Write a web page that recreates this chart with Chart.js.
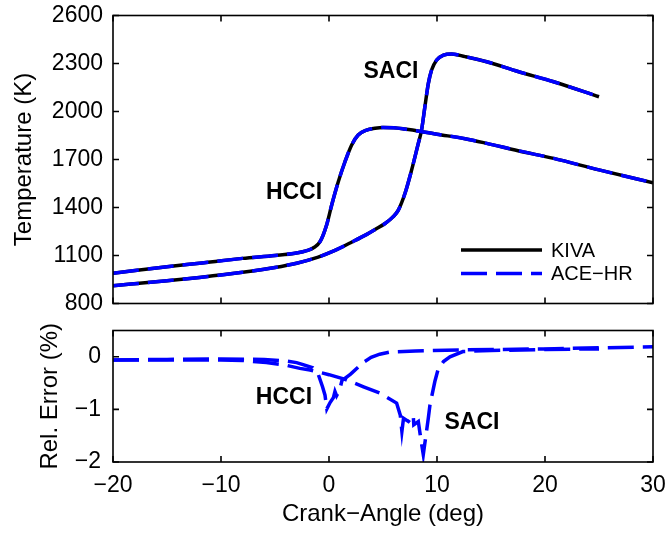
<!DOCTYPE html>
<html>
<head>
<meta charset="utf-8">
<script src="https://cdn.jsdelivr.net/npm/chart.js@4"></script>
<style>
  body { margin: 0; background: #fff; }
  #wrap { position: relative; width: 668px; height: 533px; }
  canvas { position: absolute; left: 0; }
  #c1 { top: 0; }
  #c2 { top: 320px; }
</style>
</head>
<body>
<div id="wrap">
  <canvas id="c1" width="668" height="320"></canvas>
  <canvas id="c2" width="668" height="213"></canvas>
</div>
<script>
// crank angle (deg) and temperature (K)
var hcciCA   = [-20, -15, -12, -8, -5, -3.15, -1.9, -1.4, -0.83, -0.22, 0.25, 0.86, 1.48, 2.1, 2.7, 3.48, 4.26, 5, 6, 7, 8.6, 10, 12.6, 14.6, 17.5, 20.8, 25, 30];
var hcciTemp = [989, 1030, 1052, 1082, 1100, 1114, 1134, 1150, 1186, 1291, 1416, 1561, 1686, 1791, 1853, 1884, 1895, 1900, 1898, 1890, 1874, 1858, 1830, 1801, 1755, 1707, 1635, 1555];

var saciCA   = [-20, -15, -12, -8, -5, -3, -1, 0.5, 2, 3.5, 4.26, 5.19, 5.9, 6.42, 7.04, 7.65, 8.27, 8.57, 8.88, 9.2, 9.5, 9.97, 10.6, 11.35, 12.6, 14.6, 17.5, 20.8, 25];
var saciTemp = [911, 942, 963, 995, 1025, 1052, 1090, 1130, 1180, 1232, 1262, 1300, 1340, 1384, 1489, 1634, 1801, 1884, 2030, 2176, 2259, 2322, 2353, 2360, 2343, 2311, 2250, 2186, 2092];

// relative error (%) of ACE-HR vs KIVA
var hcciErrCA = [-20, -15, -10, -6, -4, -3, -2.4, -1.5, -1.0, -0.6, -0.37, -0.2, 0.1, 0.4, 0.55, 0.7, 1.0, 1.2, 2.0, 2.85, 3.3, 3.9, 4.7, 5.65, 8, 12, 20, 30];
var hcciErr   = [-0.06, -0.05, -0.04, -0.05, -0.08, -0.11, -0.15, -0.21, -0.33, -0.57, -0.73, -0.99, -0.87, -0.78, -0.66, -0.74, -0.62, -0.45, -0.33, -0.17, -0.09, -0.01, 0.05, 0.09, 0.11, 0.13, 0.15, 0.19];

var saciErrCA = [-20, -15, -10, -8, -5.8, -4, -2.7, -1.76, 0, 1.5, 3.2, 4.7, 6.26, 6.6, 6.75, 6.9, 7.35, 7.8, 7.85, 8.27, 8.5, 8.73, 9.2, 9.35, 9.8, 10.1, 10.6, 11.2, 12.4, 15, 20, 25];
var saciErr   = [-0.06, -0.06, -0.06, -0.07, -0.11, -0.16, -0.22, -0.25, -0.34, -0.43, -0.57, -0.69, -0.88, -1.11, -1.42, -1.17, -1.23, -1.11, -1.29, -1.23, -1.56, -1.86, -1.16, -0.91, -0.47, -0.24, -0.09, 0.0, 0.10, 0.12, 0.14, 0.15];

var angleTicks = [-20, -10, 0, 10, 20, 30];
var tempTicks  = [800, 1100, 1400, 1700, 2000, 2300, 2600];
var errTicks   = [-2, -1, 0];

var FONT = '"Liberation Sans", Arial, Helvetica, sans-serif';
var BLUE = '#0000ff';

function pts(xs, ys){
  var out = [];
  for (var i = 0; i < xs.length; i++) out.push({x: xs[i], y: ys[i]});
  return out;
}

function fmt(v){
  return v < 0 ? '\u2212' + Math.abs(v) : '' + v;
}

function setTicks(list){
  return function(s){ s.ticks = list.map(function(v){ return {value: v}; }); };
}

// pin axis size and drop the label overhang padding so the plot box stays put
function pinWidth(w){
  return function(s){ s.width = w; s.paddingTop = 0; s.paddingBottom = 0; };
}
function pinHeight(h){
  return function(s){ s.height = h; s.paddingLeft = 0; s.paddingRight = 0; };
}

// box + inward tick marks, matlab style
var frame = {
  id: 'frame',
  afterDraw: function(chart){
    var ctx = chart.ctx, a = chart.chartArea;
    var sx = chart.scales.x, sy = chart.scales.y;
    ctx.save();
    ctx.strokeStyle = '#000';
    ctx.lineWidth = 1.6;
    ctx.strokeRect(a.left, a.top, a.right - a.left, a.bottom - a.top);
    ctx.beginPath();
    sx.ticks.forEach(function(t){
      var p = sx.getPixelForValue(t.value);
      ctx.moveTo(p, a.bottom); ctx.lineTo(p, a.bottom - 6);
      ctx.moveTo(p, a.top); ctx.lineTo(p, a.top + 6);
    });
    sy.ticks.forEach(function(t){
      var p = sy.getPixelForValue(t.value);
      ctx.moveTo(a.left, p); ctx.lineTo(a.left + 6, p);
      ctx.moveTo(a.right, p); ctx.lineTo(a.right - 6, p);
    });
    ctx.stroke();
    ctx.restore();
  }
};

// text labels placed in data coordinates
var notes = {
  id: 'notes',
  afterDraw: function(chart, args, opts){
    var ctx = chart.ctx;
    ctx.save();
    ctx.fillStyle = '#000';
    ctx.font = 'bold 23px ' + FONT;
    ctx.textAlign = 'center';
    ctx.textBaseline = 'middle';
    (opts.items || []).forEach(function(n){
      ctx.fillText(n.text, chart.scales.x.getPixelForValue(n.x), chart.scales.y.getPixelForValue(n.y));
    });
    ctx.restore();
  }
};

var legendBox = {
  id: 'legendBox',
  afterDraw: function(chart){
    var ctx = chart.ctx;
    var ds = chart.data.datasets;
    var rows = [ds[1], ds[0]]; // KIVA first, then ACE-HR
    ctx.save();
    ctx.font = '20px ' + FONT;
    ctx.textBaseline = 'middle';
    rows.forEach(function(d, i){
      var y = 250 + i * 23.5;
      ctx.beginPath();
      ctx.strokeStyle = d.borderColor;
      ctx.lineWidth = d.borderWidth;
      ctx.setLineDash(d.borderDash || []);
      ctx.moveTo(461, y); ctx.lineTo(542, y);
      ctx.stroke();
      ctx.setLineDash([]);
      ctx.fillStyle = '#000';
      ctx.fillText(d.label, 551, y + 1);
    });
    ctx.restore();
  }
};

function lineSet(label, data, color, dash, order, mode){
  return {
    label: label,
    data: data,
    borderColor: color,
    borderWidth: 3.5,
    borderDash: dash,
    borderCapStyle: 'butt',
    pointRadius: 0,
    fill: false,
    order: order,
    cubicInterpolationMode: mode,
    tension: 0
  };
}

function renderTemp(){
  var ctx = document.getElementById('c1').getContext('2d');
  var dashed = [26, 9];
  new Chart(ctx, {
    type: 'line',
    data: {
      datasets: [
        lineSet('ACE\u2212HR', pts(hcciCA, hcciTemp), BLUE, dashed, 0, 'monotone'),
        lineSet('KIVA', pts(hcciCA, hcciTemp), '#000', [], 1, 'monotone'),
        lineSet('ACE\u2212HR', pts(saciCA, saciTemp), BLUE, dashed, 0, 'monotone'),
        lineSet('KIVA', pts(saciCA, saciTemp), '#000', [], 1, 'monotone')
      ]
    },
    options: {
      responsive: false,
      animation: false,
      layout: { padding: { top: 15.5, right: 15, left: 0, bottom: 0 } },
      plugins: {
        legend: { display: false },
        tooltip: { enabled: false },
        notes: { items: [
          { text: 'SACI', x: 5.74, y: 2247 },
          { text: 'HCCI', x: -3.24, y: 1491 }
        ] }
      },
      scales: {
        x: {
          type: 'linear', min: -20, max: 30,
          afterBuildTicks: setTicks(angleTicks),
          ticks: { display: false },
          grid: { display: false },
          border: { display: false },
          afterFit: pinHeight(16.5)
        },
        y: {
          min: 800, max: 2600,
          afterBuildTicks: setTicks(tempTicks),
          ticks: { color: '#000', padding: 10, font: { family: FONT, size: 23 },
                   callback: function(v){ return fmt(v); } },
          grid: { display: false, drawTicks: false },
          border: { display: false },
          title: { display: true, text: 'Temperature (K)', color: '#000',
                   font: { family: FONT, size: 24 }, padding: { top: 10, bottom: 0 } },
          afterFit: pinWidth(113)
        }
      }
    },
    plugins: [frame, notes, legendBox]
  });
}

function renderErr(){
  var ctx = document.getElementById('c2').getContext('2d');
  var dashed = [26, 9];
  new Chart(ctx, {
    type: 'line',
    data: {
      datasets: [
        lineSet('HCCI', pts(hcciErrCA, hcciErr), BLUE, dashed, 0, 'default'),
        lineSet('SACI', pts(saciErrCA, saciErr), BLUE, dashed, 0, 'default')
      ]
    },
    options: {
      responsive: false,
      animation: false,
      layout: { padding: { top: 10.5, right: 15, left: 0, bottom: 0 } },
      plugins: {
        legend: { display: false },
        tooltip: { enabled: false },
        notes: { items: [
          { text: 'HCCI', x: -4.17, y: -0.78 },
          { text: 'SACI', x: 13.24, y: -1.25 }
        ] }
      },
      scales: {
        x: {
          type: 'linear', min: -20, max: 30,
          afterBuildTicks: setTicks(angleTicks),
          ticks: { color: '#000', padding: 10, maxRotation: 0, font: { family: FONT, size: 23 },
                   callback: function(v){ return fmt(v); } },
          grid: { display: false, drawTicks: false },
          border: { display: false },
          title: { display: true, text: 'Crank\u2212Angle (deg)', color: '#000',
                   font: { family: FONT, size: 24 }, padding: { top: 4, bottom: 4 } },
          afterFit: pinHeight(71)
        },
        y: {
          min: -2, max: 0.5,
          afterBuildTicks: setTicks(errTicks),
          ticks: { color: '#000', padding: 12, font: { family: FONT, size: 23 },
                   callback: function(v){ return fmt(v); } },
          grid: { display: false, drawTicks: false },
          border: { display: false },
          title: { display: true, text: 'Rel. Error (%)', color: '#000',
                   font: { family: FONT, size: 24 }, padding: { top: 36, bottom: 0 } },
          afterFit: pinWidth(113)
        }
      }
    },
    plugins: [frame, notes]
  });
}

renderTemp();
renderErr();
</script>
</body>
</html>
